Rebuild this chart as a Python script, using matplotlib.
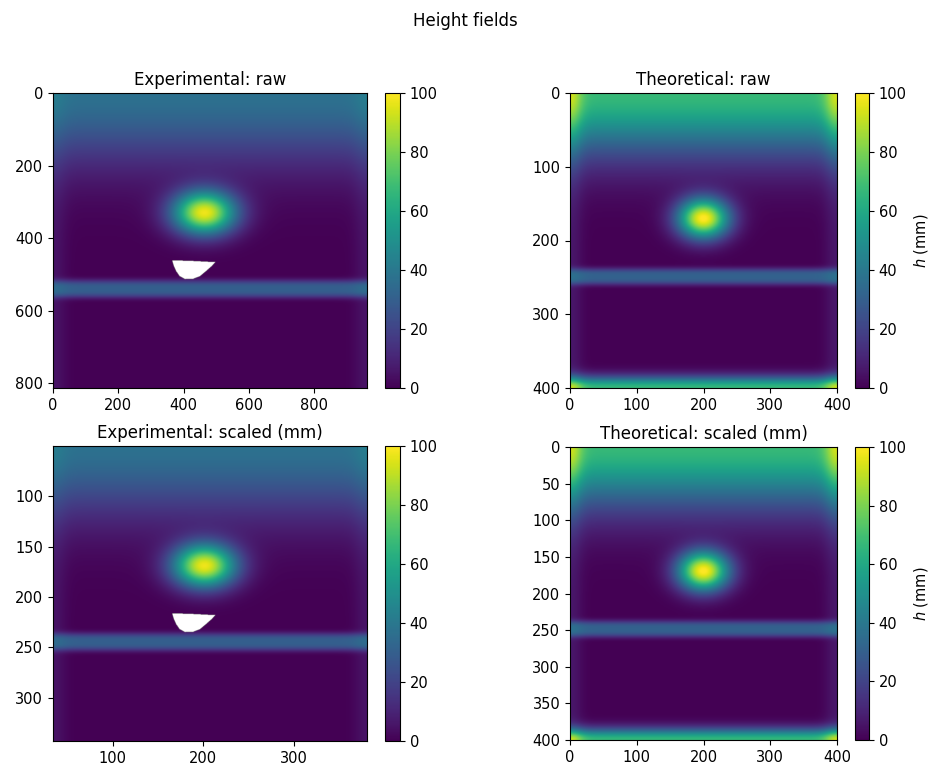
import numpy as np
import matplotlib
matplotlib.use('Agg')
import matplotlib.pyplot as plt
from matplotlib.path import Path

# --- field parameters ---
# experimental (raw pixel grid)
exp_nx, exp_ny = 963, 814
exp_top_amp, exp_top_len = 37.0, 185.0
exp_side_amp, exp_side_len = 5.0, 40.0
exp_bump = [464.0, 330.0, 68.0, 42.0, 96.0]     # x0, y0, sx, sy, peak
exp_band = [540.0, 24.0, 30.0]                  # y0, half width, level
exp_hole_x = [365, 430, 497, 485, 470, 450, 430, 405, 388, 378, 370]
exp_hole_y = [461, 463, 466, 478, 490, 505, 512, 513, 505, 492, 476]
exp_scale = 0.36                                # mm per pixel
exp_offset = [34.0, 50.0]                       # mm origin of scaled image

# theoretical (mm grid 0..400)
th_n = 400
th_top_amp, th_top_len = 67.0, 80.0
th_bot_amp, th_bot_len = 66.0, 15.0
th_side_amp, th_side_len = 6.0, 18.0
th_bump = [200.0, 170.0, 27.0, 19.0, 100.0]
th_band = [249.0, 11.0, 31.0]

cb_ticks = [0, 20, 40, 60, 80, 100]
raw_exp_ticks = [0, 200, 400, 600, 800]
mm_exp_xticks = [100, 200, 300]
mm_exp_yticks = [100, 150, 200, 250, 300]
th_xticks = [0, 100, 200, 300, 400]
th_raw_yticks = [0, 100, 200, 300, 400]
th_mm_yticks = [0, 50, 100, 150, 200, 250, 300, 350, 400]


def bump(X, Y, p):
    return p[4]*np.exp(-0.5*((X-p[0])/p[2])**2 - 0.5*((Y-p[1])/p[3])**2)

def band(Y, p):
    return p[2]*np.exp(-np.abs((Y-p[0])/p[1])**3)

# experimental field
Xe, Ye = np.meshgrid(np.arange(exp_nx), np.arange(exp_ny))
ds = np.minimum(Xe, exp_nx-1-Xe)
top = exp_top_amp*np.exp(-(Ye/exp_top_len)**2)
side = np.exp(-(ds/exp_side_len)**2)*exp_side_amp
h_exp = top + side + bump(Xe, Ye, exp_bump) + band(Ye, exp_band)
hole = Path(np.column_stack([exp_hole_x, exp_hole_y]))
inside = hole.contains_points(np.column_stack([Xe.ravel(), Ye.ravel()])).reshape(Xe.shape)
h_exp[inside] = np.nan

# theoretical field
xt = np.linspace(0, th_n, 401)
Xt, Yt = np.meshgrid(xt, xt)
dst = np.minimum(Xt, th_n-Xt)
top_t = th_top_amp*np.exp(-(Yt/th_top_len)**2)
bot_t = th_bot_amp*np.exp(-((th_n-Yt)/th_bot_len)**2)
side_t = np.exp(-(dst/th_side_len)**2)*(th_side_amp + 0.3*(top_t+bot_t))
h_th = top_t + bot_t + side_t + bump(Xt, Yt, th_bump) + band(Yt, th_band)

fig = plt.figure(figsize=(9.31, 7.69), dpi=100)
W, H = 931., 769.

def box(x0, x1, y0, y1):
    return [x0/W, 1-y1/H, (x1-x0)/W, (y1-y0)/H]

ext_raw = [-0.5, exp_nx-0.5, exp_ny-0.5, -0.5]
ext_mm = [exp_offset[0], exp_offset[0]+exp_nx*exp_scale,
          exp_offset[1]+exp_ny*exp_scale, exp_offset[1]]
ext_th = [0, th_n, th_n, 0]

panels = [
    (box(53, 367, 93, 388), box(385, 400, 93, 388), h_exp, ext_raw,
     'Experimental: raw', False, raw_exp_ticks, raw_exp_ticks),
    (box(570, 837, 93, 388), box(855, 869, 93, 388), h_th, ext_th,
     'Theoretical: raw', True, th_xticks, th_raw_yticks),
    (box(53, 367, 446, 741), box(385, 400, 446, 741), h_exp, ext_mm,
     'Experimental: scaled (mm)', False, mm_exp_xticks, mm_exp_yticks),
    (box(570, 837, 447, 740), box(855, 869, 447, 740), h_th, ext_th,
     'Theoretical: scaled (mm)', True, th_xticks, th_mm_yticks),
]

for apos, cpos, data, ext, title, lab, xt_, yt_ in panels:
    ax = fig.add_axes(apos)
    im = ax.imshow(data, cmap='viridis', vmin=0, vmax=100, extent=ext,
                   aspect='auto', interpolation='bilinear')
    ax.set_title(title, fontsize=12)
    ax.set_xticks(xt_)
    ax.set_yticks(yt_)
    ax.set_xlim(ext[0], ext[1])
    ax.set_ylim(ext[2], ext[3])
    ax.tick_params(labelsize=10.5)
    cax = fig.add_axes(cpos)
    cb = fig.colorbar(im, cax=cax, ticks=cb_ticks)
    cb.ax.tick_params(labelsize=10.5)
    if lab:
        cb.set_label('$h$ (mm)', fontsize=10.5)

fig.suptitle('Height fields', fontsize=12, y=0.985)
fig.savefig('out.png', dpi=100)
